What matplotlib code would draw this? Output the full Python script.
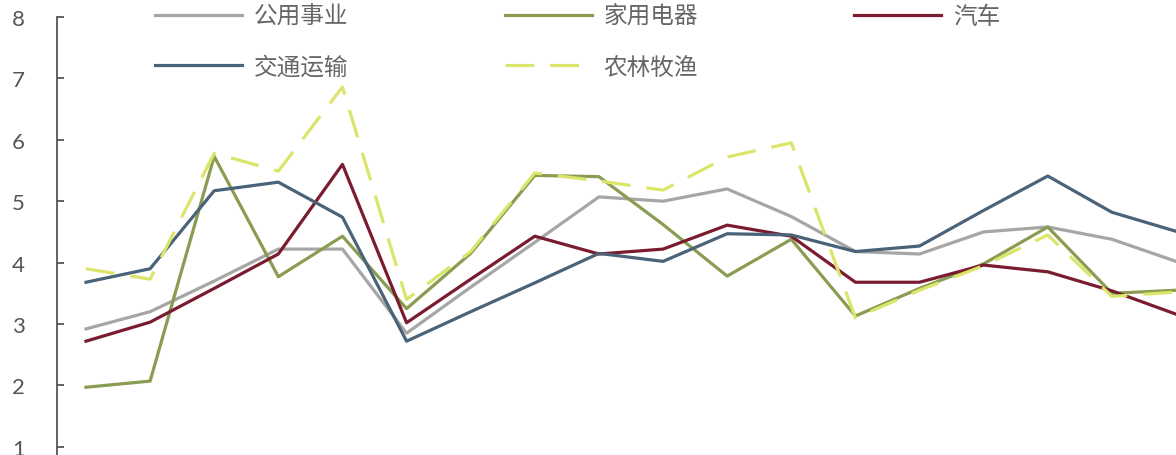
import matplotlib
matplotlib.use("Agg")
import matplotlib.pyplot as plt

plt.rcParams['font.family'] = ['Noto Sans CJK SC', 'DejaVu Sans']

# x index positions (18 periods; axis labels not visible in the reference)
periods = list(range(18))

gongyong = [2.92, 3.20, 3.70, 4.22, 4.22, 2.85, 3.60, 4.33, 5.07, 5.00, 5.20, 4.75, 4.18, 4.14, 4.50, 4.58, 4.38, 4.02]
jiadian  = [1.97, 2.07, 5.73, 3.77, 4.43, 3.25, 4.15, 5.42, 5.40, 4.62, 3.78, 4.38, 3.13, 3.58, 3.98, 4.58, 3.50, 3.55]
qiche    = [2.72, 3.03, 3.58, 4.14, 5.60, 3.02, 3.73, 4.43, 4.14, 4.22, 4.61, 4.43, 3.68, 3.68, 3.96, 3.85, 3.54, 3.16]
jiaotong = [3.68, 3.90, 5.17, 5.31, 4.74, 2.72, 3.20, 3.67, 4.15, 4.02, 4.47, 4.45, 4.18, 4.27, 4.85, 5.41, 4.82, 4.51]
nonglin  = [3.90, 3.73, 5.78, 5.49, 6.86, 3.40, 4.18, 5.46, 5.33, 5.18, 5.72, 5.95, 3.10, 3.55, 3.95, 4.45, 3.45, 3.52]

labels = ['公用事业', '家用电器', '汽车', '交通运输', '农林牧渔']
yticks = [1, 2, 3, 4, 5, 6, 7, 8]

W, H = 1176, 456
fig = plt.figure(figsize=(W / 100, H / 100), dpi=100)
ax = fig.add_axes([57 / W, 0, 1 - 57 / W, 1 - 18 / H])

lw = 2.3
l1, = ax.plot(periods, gongyong, color='#a6a6a6', lw=lw, label=labels[0])
l2, = ax.plot(periods, jiadian, color='#8a9c52', lw=lw, label=labels[1])
l3, = ax.plot(periods, qiche, color='#7a1c30', lw=lw, label=labels[2])
l4, = ax.plot(periods, jiaotong, color='#4a6378', lw=lw, label=labels[3])
l5, = ax.plot(periods, nonglin, color='#dbe56a', lw=lw, ls=(0, (9, 5)), label=labels[4])

ax.set_xlim(-0.452, 17.0)
ax.set_ylim(8 - 438 / 61.4, 8)
ax.set_yticks(yticks)
ax.set_xticks([])
for s in ['top', 'right', 'bottom']:
    ax.spines[s].set_visible(False)
ax.spines['left'].set_color('#555555')
ax.spines['left'].set_linewidth(1.3)
ax.tick_params(axis='y', direction='in', length=5, width=1.3, color='#555555',
               pad=23, labelsize=16, labelcolor='#555555')
for t in ax.get_yticklabels():
    t.set_family(['Lato', 'DejaVu Sans'])

# legend filled column-wise: reorder so rows read 公用事业/家用电器/汽车, 交通运输/农林牧渔
order = [0, 3, 1, 4, 2]
handles = [l1, l2, l3, l4, l5]
leg = fig.legend(handles=[handles[i] for i in order], labels=[labels[i] for i in order], ncol=3,
                 loc='upper left', bbox_to_anchor=(155 / W, 1 - 6 / H),
                 bbox_transform=fig.transFigure, frameon=False, borderpad=0,
                 fontsize=17, handlelength=3.7, handletextpad=0.5,
                 columnspacing=6.6, labelspacing=1.17, borderaxespad=0)
for t in leg.get_texts():
    t.set_color('#666666')

fig.savefig('out.png', dpi=100, facecolor='white')
